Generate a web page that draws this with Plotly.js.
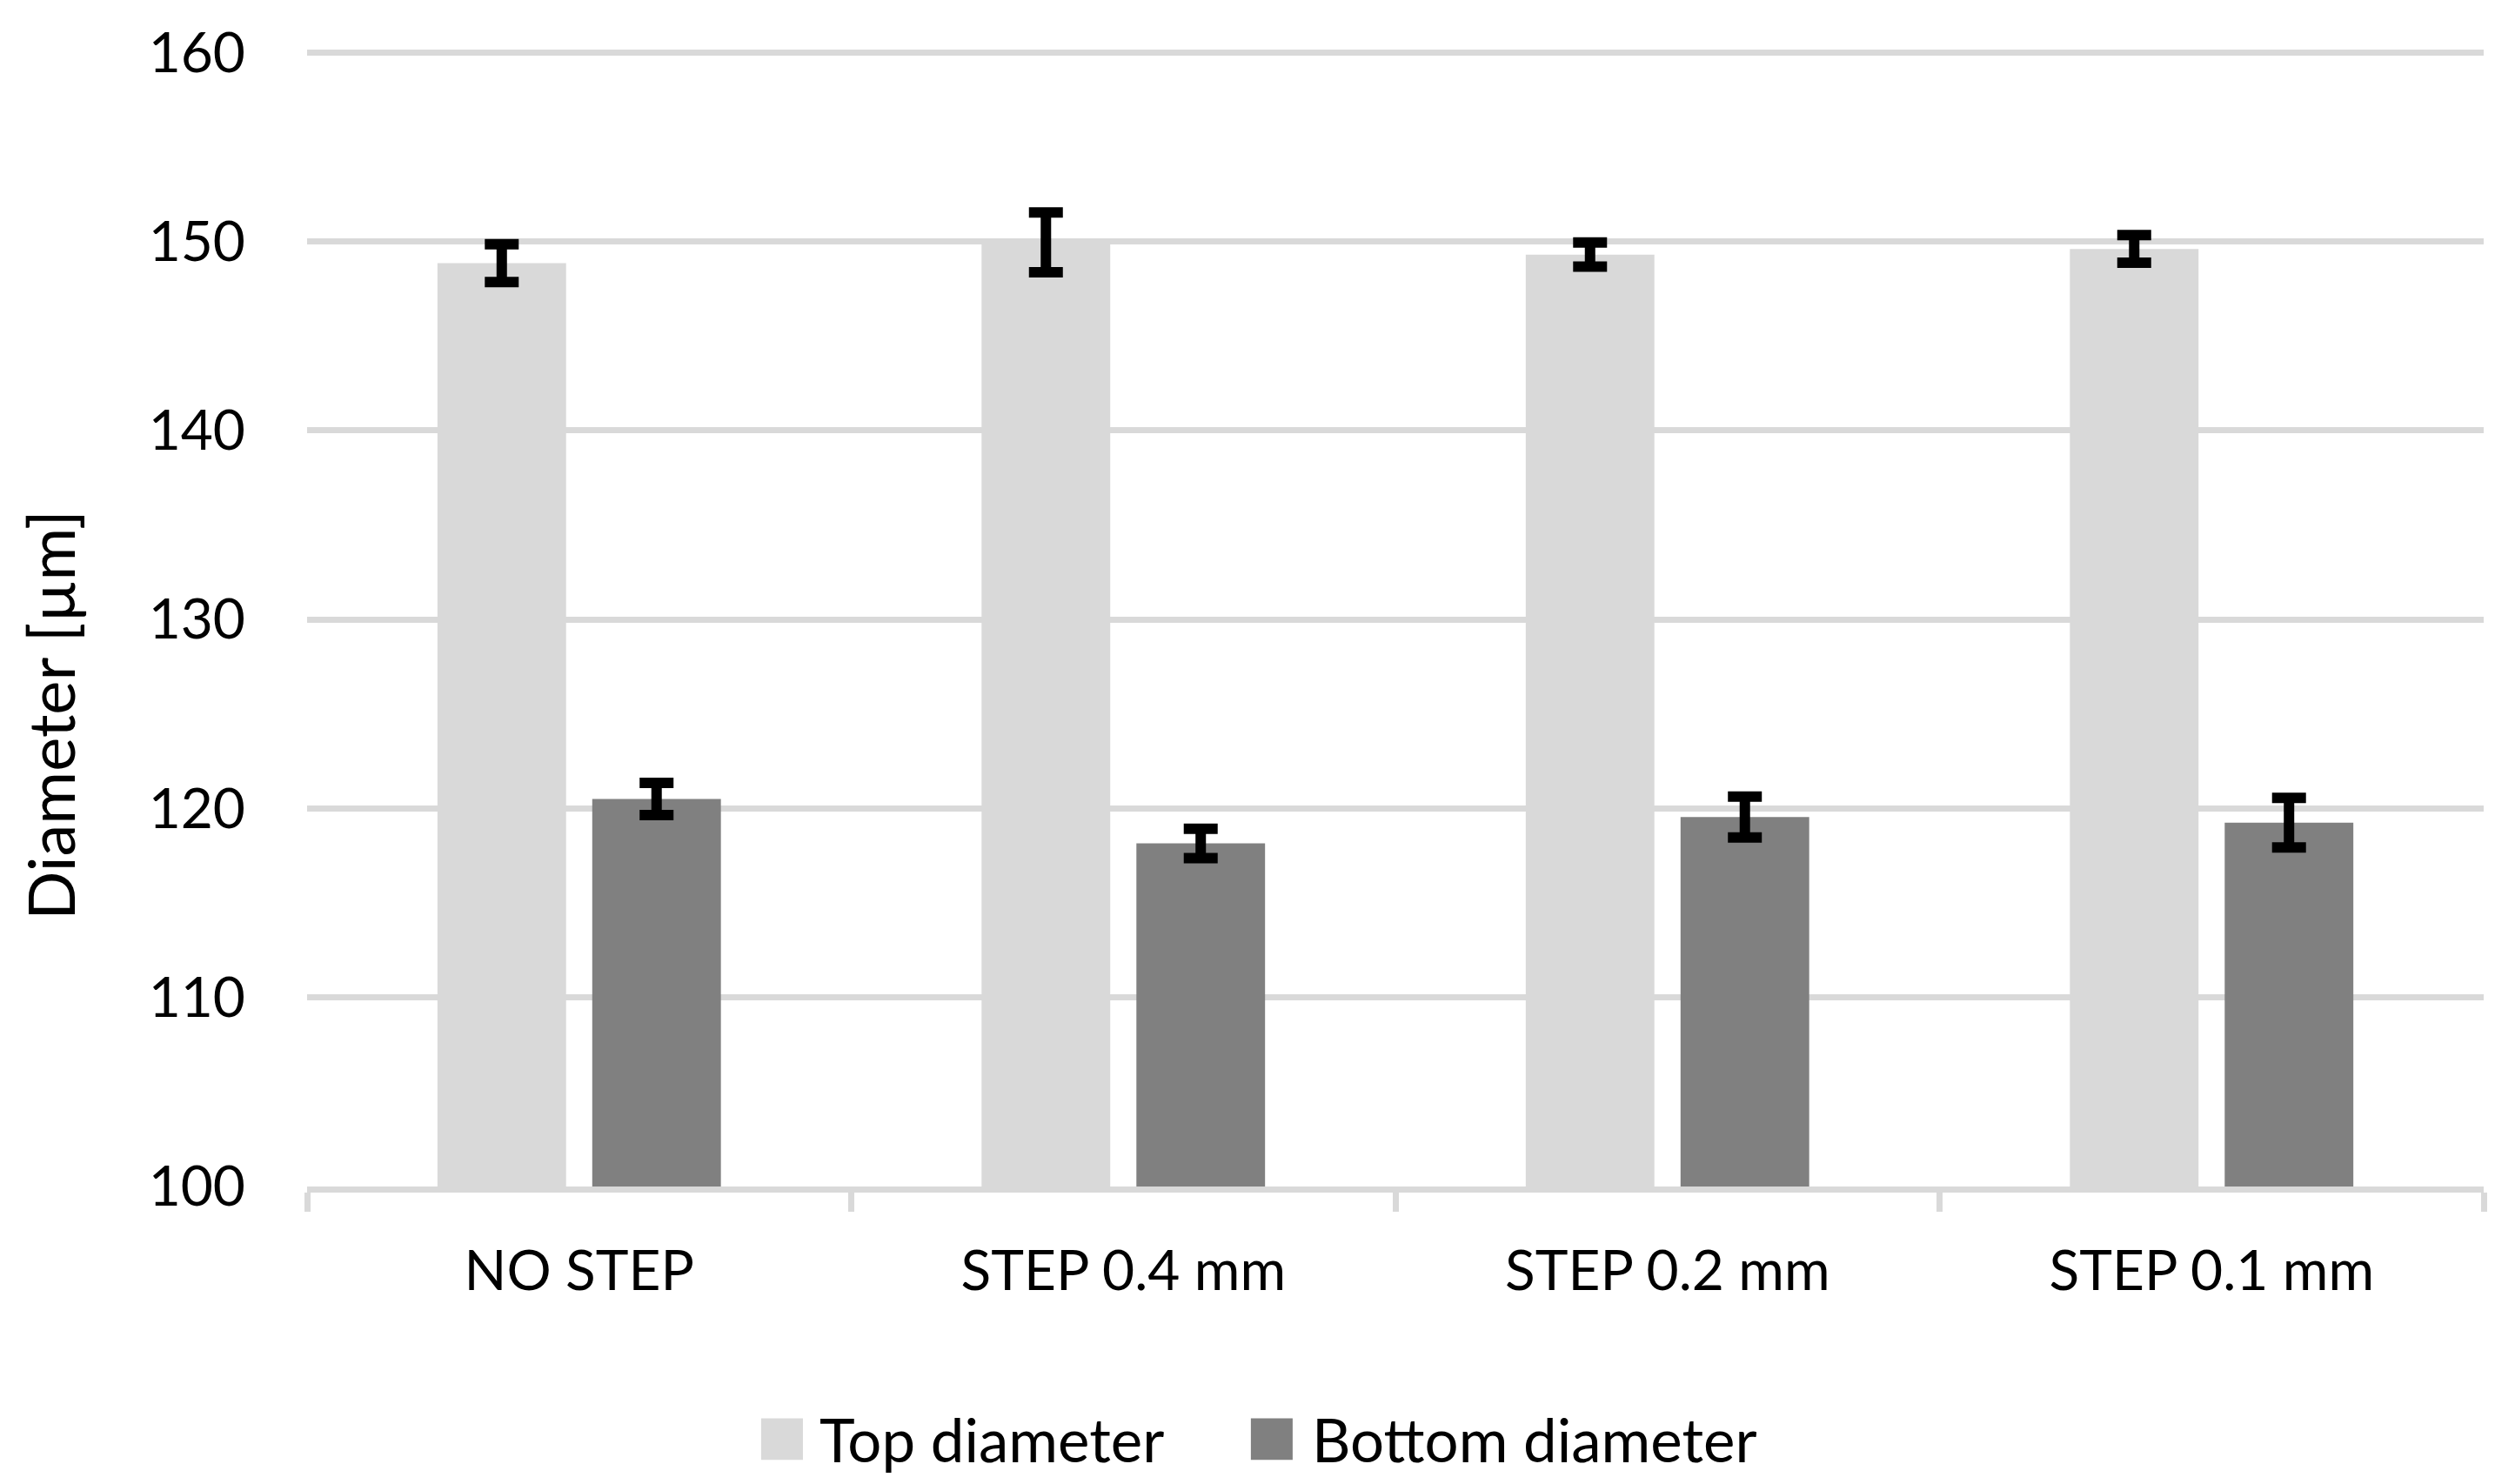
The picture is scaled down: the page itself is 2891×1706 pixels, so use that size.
<!DOCTYPE html>
<html>
<head>
<meta charset="utf-8">
<script src="https://cdn.plot.ly/plotly-3.0.1.min.js"></script>
<style>html,body{margin:0;padding:0;background:#fff;}#chart{width:2891px;height:1706px;}</style>
</head>
<body>
<div id="chart"></div>
<script>
const categories = ["NO STEP", "STEP 0.4 mm", "STEP 0.2 mm", "STEP 0.1 mm"];
const topDiameter = [148.85, 149.95, 149.3, 149.6];
const topError = [1.0, 1.58, 0.64, 0.73];
const bottomDiameter = [120.5, 118.15, 119.55, 119.25];
const bottomError = [0.85, 0.78, 1.08, 1.31];
const seriesNames = ["Top diameter", "Bottom diameter"];
const yTitle = "Diameter [µm]";

const FONT = "Lato, 'Open Sans', sans-serif";
const errStyle = {type: "data", visible: true, color: "#000000", thickness: 12, width: 19.5};

const traces = [
  {type: "bar", name: seriesNames[0], x: categories, y: topDiameter,
   marker: {color: "#d9d9d9"}, error_y: Object.assign({array: topError}, errStyle), showlegend: false, hoverinfo: "y"},
  {type: "bar", name: seriesNames[1], x: categories, y: bottomDiameter,
   marker: {color: "#808080"}, error_y: Object.assign({array: bottomError}, errStyle), showlegend: false, hoverinfo: "y"}
];

const legendColors = ["#d9d9d9", "#808080"];
const legendSwatchX = [[0.2086, 0.2278], [0.4336, 0.4528]];
const legendTextX = [0.2346, 0.4608];

const shapes = legendSwatchX.map((sx, i) => ({
  type: "rect", xref: "paper", yref: "paper", x0: sx[0], x1: sx[1], y0: -0.2407, y1: -0.2040,
  fillcolor: legendColors[i], line: {width: 0}
}));

const annotations = seriesNames.map((n, i) => ({
  xref: "paper", yref: "paper", x: legendTextX[i], y: -0.2223, xanchor: "left", yanchor: "middle",
  text: n, showarrow: false, font: {family: FONT, size: 69, color: "#000000"}
}));
annotations.push({
  xref: "paper", yref: "paper", x: -0.1179, y: 0.4152, xanchor: "center", yanchor: "middle",
  text: yTitle, textangle: -90, showarrow: false, font: {family: FONT, size: 74, color: "#000000"}
});

const layout = {
  width: 2891, height: 1706,
  margin: {l: 353, r: 36, t: 57.8, b: 341.5, pad: 0},
  paper_bgcolor: "#ffffff", plot_bgcolor: "#ffffff",
  font: {family: FONT, size: 64, color: "#000000"},
  barmode: "group", bargap: 0.431, bargroupgap: 0.169,
  showlegend: false,
  xaxis: {
    type: "category", showgrid: false, showline: true, linecolor: "#d9d9d9", linewidth: 7,
    ticks: "outside", tickson: "boundaries", ticklen: 22, tickwidth: 7, tickcolor: "#d9d9d9",
    tickfont: {family: FONT, size: 64, color: "#000000"}, ticklabelstandoff: 35, zeroline: false
  },
  yaxis: {
    range: [100, 160.1], dtick: 10, tick0: 100, showgrid: true, gridcolor: "#d9d9d9", gridwidth: 7,
    showline: false, zeroline: false, ticks: "",
    tickfont: {family: FONT, size: 64, color: "#000000"}, ticklabelstandoff: 70
  },
  shapes: shapes,
  annotations: annotations
};

Plotly.newPlot("chart", traces, layout, {displayModeBar: false, staticPlot: true});
</script>
</body>
</html>
